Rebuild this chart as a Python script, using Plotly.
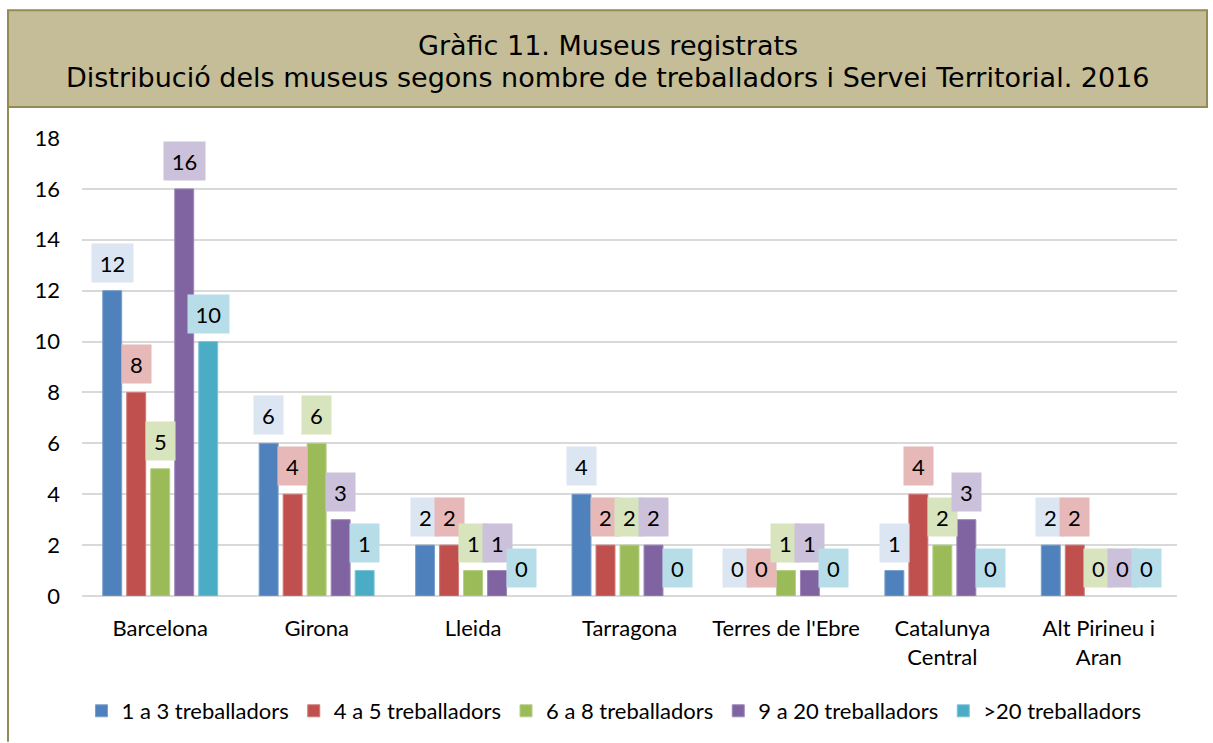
import plotly.graph_objects as go

categories = ["Barcelona", "Girona", "Lleida", "Tarragona", "Terres de l'Ebre",
              "Catalunya<br>Central", "Alt Pirineu i<br>Aran"]
series_names = ["1 a 3 treballadors", "4 a 5 treballadors", "6 a 8 treballadors",
                "9 a 20 treballadors", ">20 treballadors"]
s1 = [12, 6, 2, 4, 0, 1, 2]
s2 = [8, 4, 2, 2, 0, 4, 2]
s3 = [5, 6, 1, 2, 1, 2, 0]
s4 = [16, 3, 1, 2, 1, 3, 0]
s5 = [10, 1, 0, 0, 0, 0, 0]
series_values = [s1, s2, s3, s4, s5]

title_line1 = "Gràfic 11. Museus registrats"
title_line2 = "Distribució dels museus segons nombre de treballadors i Servei Territorial. 2016"

bar_colors = ["#4F81BD", "#C0504D", "#9BBB59", "#8064A2", "#4BACC6"]
edge_colors = ["#7A9FCC", "#D07A78", "#B5CE85", "#9D87B9", "#7CC3D5"]
label_bg = ["#DCE6F2", "#E6B9B8", "#D7E4BD", "#CCC1DA", "#B7DEE8"]

FONT = "Lato"
W, H = 1213, 743
L, R, T, B = 82, 36, 138, 146
plot_w = W - L - R
plot_h = H - T - B

fig = go.Figure()
for i, (name, vals) in enumerate(zip(series_names, series_values)):
    fig.add_trace(go.Bar(
        x=categories, y=vals, name=name,
        marker=dict(color=bar_colors[i],
                    line=dict(color=edge_colors[i], width=[0 if v == 0 else 1 for v in vals])),
        hoverinfo="skip",
    ))

bargap = 0.233
slot_px = plot_w / len(categories) * (1 - bargap) / len(series_names)

def px_x(px):
    return (px - L) / plot_w

def px_y(py):
    return (H - B - py) / plot_h

annotations = []
for i, vals in enumerate(series_values):
    for c, v in zip(categories, vals):
        txt = str(v)
        annotations.append(dict(
            x=c, y=v, xref="x", yref="y", text=txt, showarrow=False,
            xshift=(i - 2) * slot_px, yshift=8, yanchor="bottom", xanchor="center",
            bgcolor=label_bg[i], borderpad=0,
            width=29 if len(txt) == 1 else 41, height=38,
            font=dict(family=FONT, size=22, color="#000000"),
        ))

for txt, py in [(title_line1, 45), (title_line2, 77)]:
    annotations.append(dict(
        x=px_x(607.5), y=px_y(py), xref="paper", yref="paper", text=txt,
        showarrow=False, xanchor="center", yanchor="middle",
        font=dict(family="DejaVu Sans", size=27, color="#000000"),
    ))

shapes = [
    dict(type="rect", xref="paper", yref="paper",
         x0=px_x(8), x1=px_x(1207), y0=px_y(107), y1=px_y(10),
         fillcolor="#C4BD97", line=dict(color="#948A54", width=2), layer="below"),
    dict(type="line", xref="paper", yref="paper",
         x0=px_x(8), x1=px_x(8), y0=px_y(743), y1=px_y(107),
         line=dict(color="#948A54", width=2)),
]

fig.update_layout(
    width=W, height=H,
    margin=dict(l=L, r=R, t=T, b=B),
    paper_bgcolor="#FFFFFF", plot_bgcolor="#FFFFFF",
    barmode="group", bargap=bargap, bargroupgap=0.21,
    xaxis=dict(
        tickfont=dict(family=FONT, size=22, color="#000000"),
        showgrid=False, showline=False, ticks="", ticklabelstandoff=17,
    ),
    yaxis=dict(
        range=[0, 18], dtick=2, tick0=0,
        tickfont=dict(family=FONT, size=22, color="#000000"),
        showgrid=True, gridcolor="#D9D9D9", gridwidth=2,
        zeroline=True, zerolinecolor="#D9D9D9", zerolinewidth=2,
        showline=False, ticks="", ticklabelstandoff=21,
    ),
    legend=dict(
        orientation="h", x=px_x(614), xanchor="center",
        y=px_y(711), yanchor="middle",
        font=dict(family=FONT, size=22, color="#000000"),
        bgcolor="rgba(0,0,0,0)", itemclick=False,
        traceorder="normal",
    ),
    annotations=annotations,
    shapes=shapes,
    showlegend=True,
)

fig.write_html("out.html", config={"displayModeBar": False},
               post_script="document.body.style.margin='0';document.body.style.overflow='hidden';")
